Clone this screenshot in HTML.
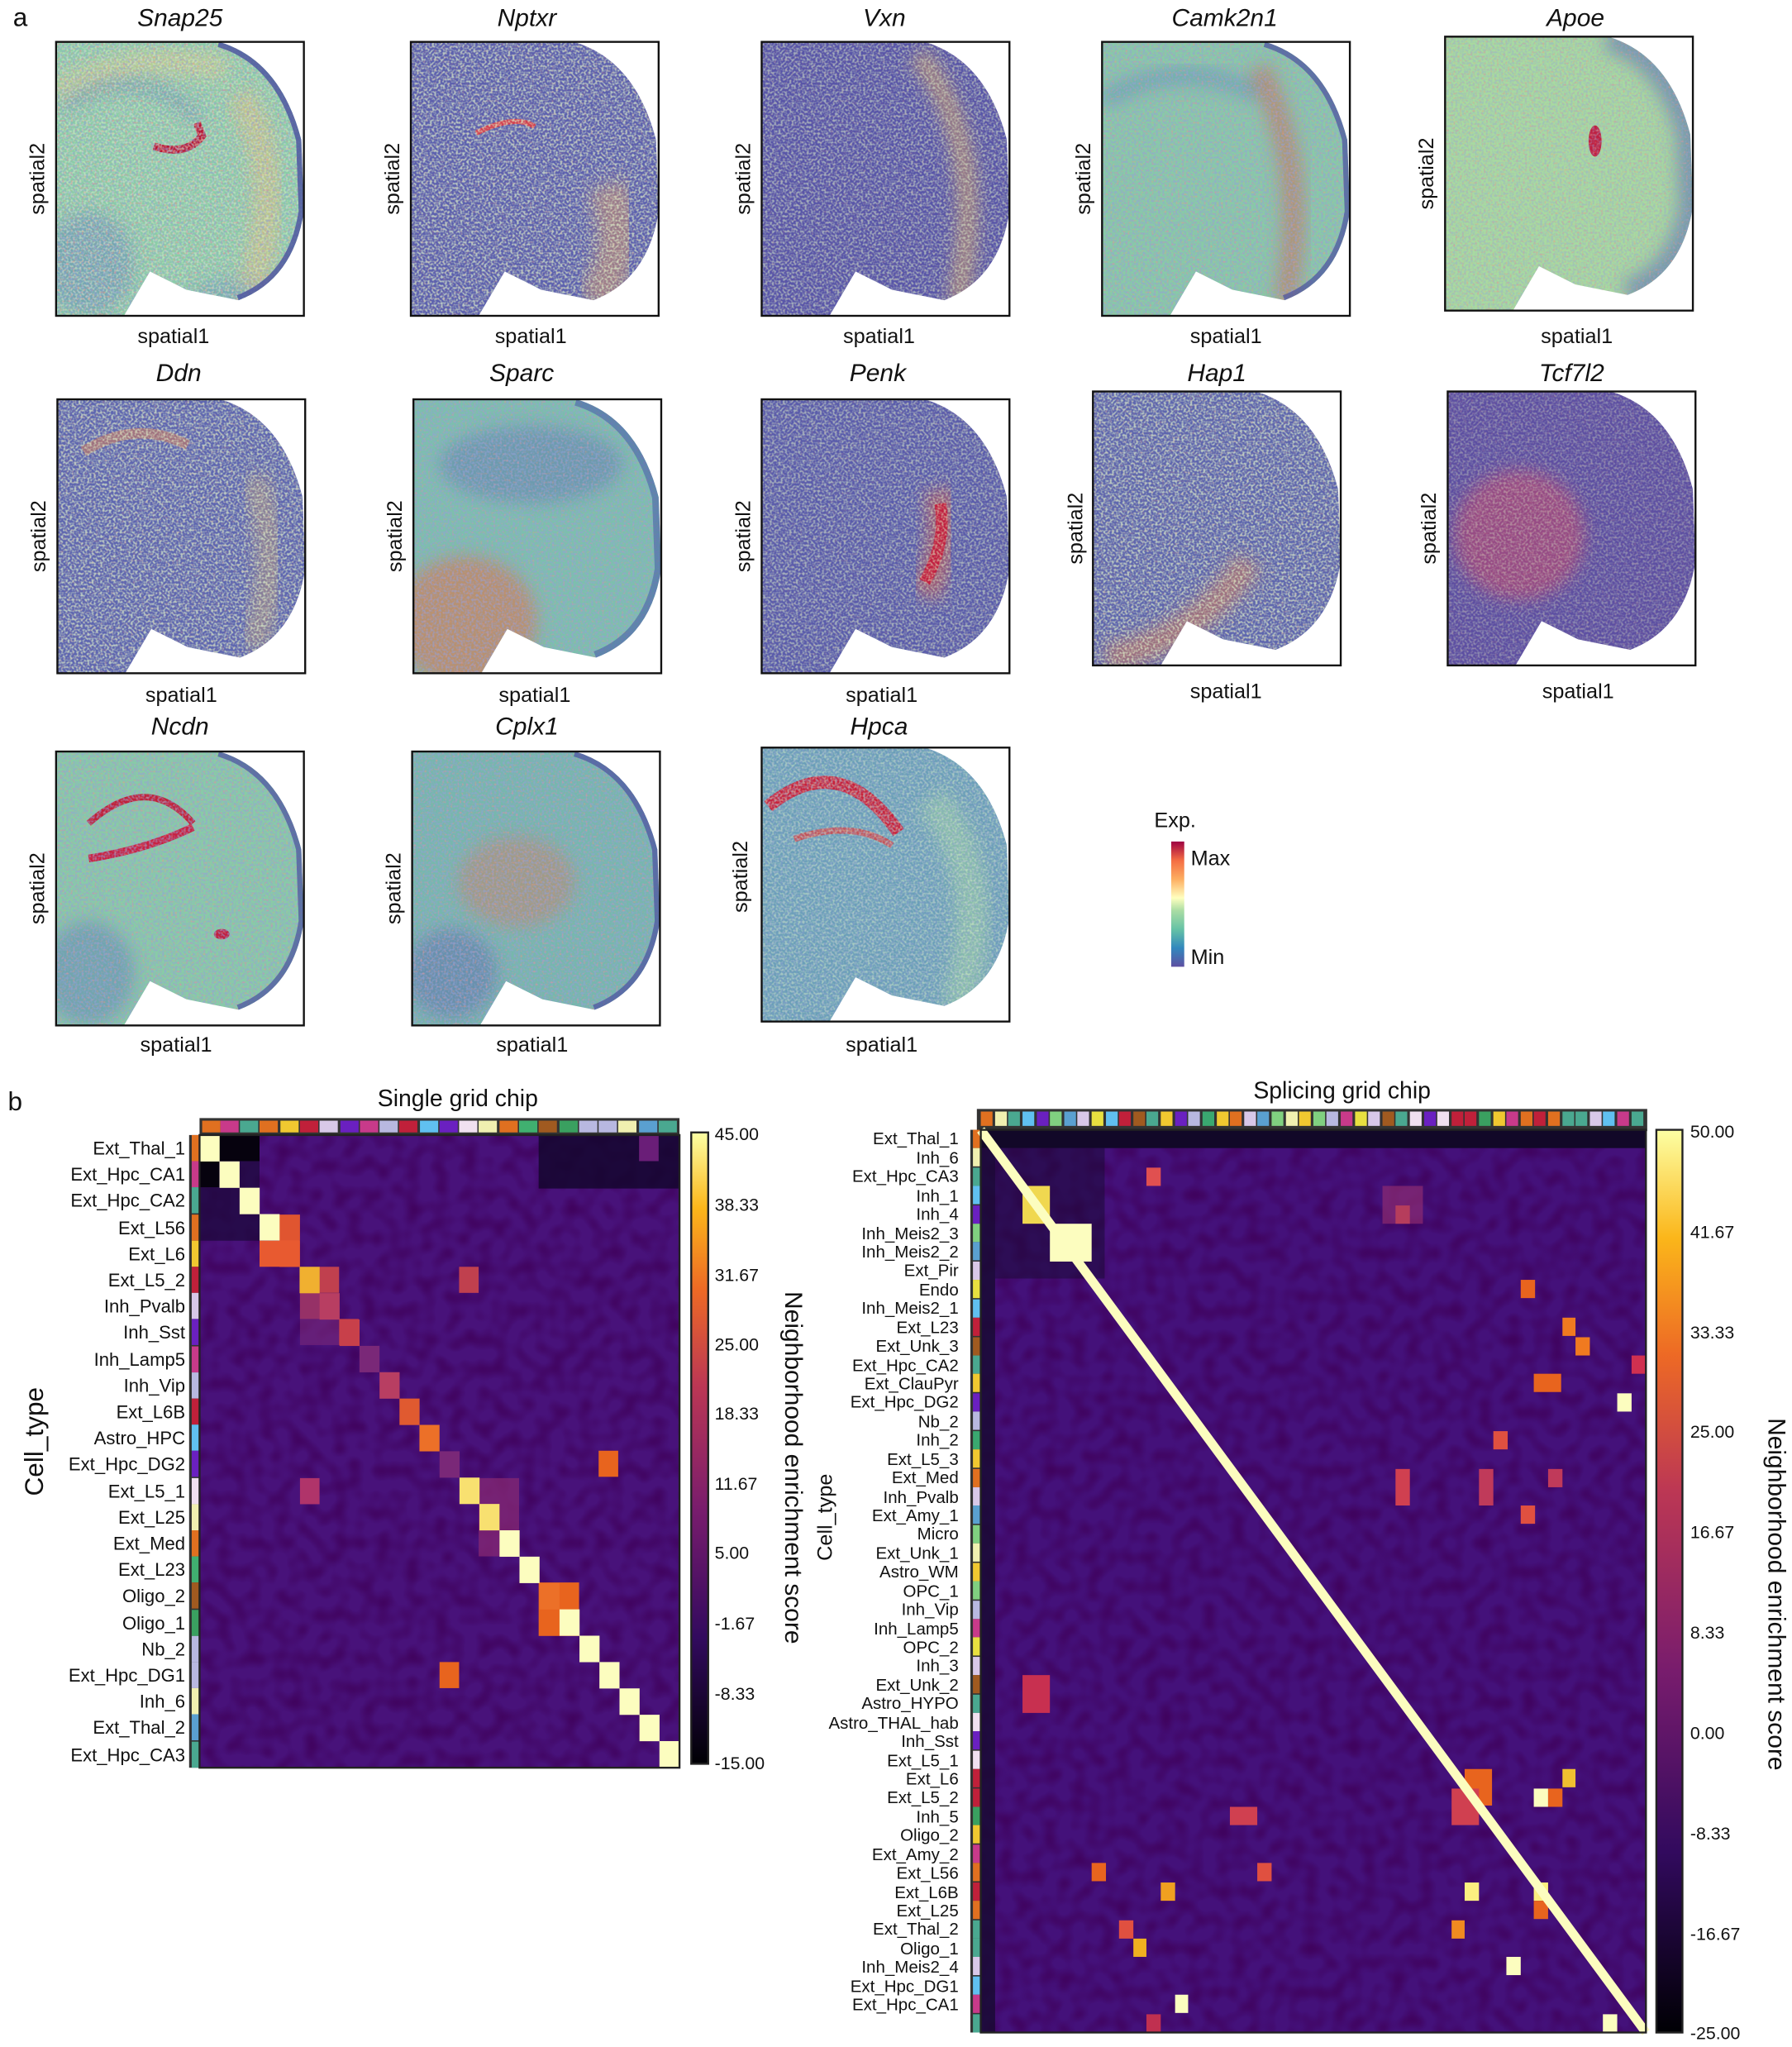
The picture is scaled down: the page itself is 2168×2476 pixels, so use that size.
<!DOCTYPE html>
<html><head><meta charset="utf-8"><style>
html,body{margin:0;padding:0;background:#fff}
svg{display:block}
text{font-family:"Liberation Sans",sans-serif;fill:#111}
</style></head><body>
<svg width="2168" height="2476" viewBox="0 0 1374 1569" xmlns="http://www.w3.org/2000/svg">
<defs>
<clipPath id="brain"><path d="M0,0 L125,0 Q172,14 188,75 L190,130 Q182,182 140,198 L100,190 L72,176 L52,210 L0,210 Z"/></clipPath>
<filter id="spkD" filterUnits="userSpaceOnUse" x="0" y="0" width="190" height="210">
<feTurbulence type="fractalNoise" baseFrequency="0.6" numOctaves="1" seed="3"/>
<feColorMatrix type="matrix" values="0 0 0 0 0.3 0 0 0 0 0.35 0 0 0 0 0.68 3.5 0 0 0 -1.4"/>
</filter>
<filter id="spkL" filterUnits="userSpaceOnUse" x="0" y="0" width="190" height="210">
<feTurbulence type="fractalNoise" baseFrequency="0.6" numOctaves="1" seed="7"/>
<feColorMatrix type="matrix" values="0 0 0 0 0.75 0 0 0 0 0.9 0 0 0 0 0.6 3.5 0 0 0 -1.45"/>
</filter>
<filter id="spkR" filterUnits="userSpaceOnUse" x="0" y="0" width="190" height="210">
<feTurbulence type="fractalNoise" baseFrequency="0.6" numOctaves="1" seed="11"/>
<feColorMatrix type="matrix" values="0 0 0 0 0.85 0 0 0 0 0.3 0 0 0 0 0.25 4 0 0 0 -2.2"/>
</filter>
<filter id="blur4" x="-50%" y="-50%" width="200%" height="200%"><feGaussianBlur stdDeviation="6"/></filter>
<filter id="hmn" filterUnits="userSpaceOnUse" x="0" y="0" width="1374" height="1569">
<feTurbulence type="fractalNoise" baseFrequency="0.09" numOctaves="1" seed="5"/>
<feColorMatrix type="matrix" values="0 0 0 0 0.05 0 0 0 0 0.0 0 0 0 0 0.1 2.5 0 0 0 -1.0"/>
</filter>
<linearGradient id="spec" x1="0" y1="1" x2="0" y2="0">
<stop offset="0" stop-color="#5e4fa2"/><stop offset="0.15" stop-color="#3288bd"/><stop offset="0.3" stop-color="#66c2a5"/><stop offset="0.45" stop-color="#abdda4"/><stop offset="0.55" stop-color="#ffffbf"/><stop offset="0.7" stop-color="#fdae61"/><stop offset="0.85" stop-color="#f46d43"/><stop offset="1" stop-color="#9e0142"/>
</linearGradient>
<linearGradient id="inf" x1="0" y1="1" x2="0" y2="0">
<stop offset="0" stop-color="#000004"/><stop offset="0.2" stop-color="#320a5e"/><stop offset="0.4" stop-color="#781c6d"/><stop offset="0.6" stop-color="#bc3754"/><stop offset="0.75" stop-color="#ed6925"/><stop offset="0.88" stop-color="#fbb61a"/><stop offset="1" stop-color="#fcffa4"/>
</linearGradient>
</defs>

<text x="10" y="20" font-size="20">a</text>
<text x="6" y="851" font-size="20">b</text>

<!-- Snap25 -->
<g transform="translate(43,32)">
<g clip-path="url(#brain)"><rect width="190" height="210" fill="#8acfa6"/>
<path d="M0,40 Q60,5 130,20" stroke="#e8d080" stroke-width="20" fill="none" opacity="0.5" filter="url(#blur4)"/>
<path d="M5,50 Q60,10 110,60" stroke="#4f78b0" stroke-width="10" fill="none" opacity="0.5" filter="url(#blur4)"/>
<ellipse cx="25" cy="170" rx="35" ry="40" fill="#5a80b8" opacity="0.5" filter="url(#blur4)"/>
<ellipse cx="140" cy="200" rx="40" ry="20" fill="#5a80b8" opacity="0.4" filter="url(#blur4)"/>
<path d="M140,40 Q178,100 150,190" stroke="#f0c070" stroke-width="22" fill="none" opacity="0.5" filter="url(#blur4)"/>
<path d="M75,80 Q100,88 112,72 L108,62" stroke="#b8102e" stroke-width="6" fill="none"/>
<rect width="190" height="210" filter="url(#spkD)" opacity="0.6"/>
<rect width="190" height="210" filter="url(#spkL)" opacity="0.5"/>
<rect width="190" height="210" filter="url(#spkR)" opacity="0.6"/>
<path d="M125,0 Q172,14 188,75 L190,130 Q182,182 140,198" stroke="#4a50a0" stroke-width="8" fill="none" opacity="0.8"/></g>
<rect width="190" height="210" fill="none" stroke="#111" stroke-width="1.5"/></g>
<text x="138" y="20" font-size="19" font-style="italic" text-anchor="middle">Snap25</text>
<text x="133" y="263" font-size="16" text-anchor="middle">spatial1</text>
<text transform="translate(34,137) rotate(-90)" font-size="16" text-anchor="middle">spatial2</text>

<!-- Nptxr -->
<g transform="translate(315,32)">
<g clip-path="url(#brain)"><rect width="190" height="210" fill="#5c60ae"/>
<path d="M150,110 Q170,160 140,200" stroke="#e8a060" stroke-width="30" fill="none" opacity="0.45" filter="url(#blur4)"/>
<path d="M50,70 Q80,55 95,65" stroke="#d04050" stroke-width="4" fill="none"/>
<rect width="190" height="210" filter="url(#spkL)" opacity="0.7"/>
<rect width="190" height="210" filter="url(#spkR)" opacity="0.3"/></g>
<rect width="190" height="210" fill="none" stroke="#111" stroke-width="1.5"/></g>
<text x="404" y="20" font-size="19" font-style="italic" text-anchor="middle">Nptxr</text>
<text x="407" y="263" font-size="16" text-anchor="middle">spatial1</text>
<text transform="translate(306,137) rotate(-90)" font-size="16" text-anchor="middle">spatial2</text>

<!-- Vxn -->
<g transform="translate(584,32)">
<g clip-path="url(#brain)"><rect width="190" height="210" fill="#5855a8"/>
<path d="M120,10 Q175,80 150,200" stroke="#e8b060" stroke-width="16" fill="none" opacity="0.5" filter="url(#blur4)"/>
<rect width="190" height="210" filter="url(#spkL)" opacity="0.55"/>
<rect width="190" height="210" filter="url(#spkR)" opacity="0.2"/></g>
<rect width="190" height="210" fill="none" stroke="#111" stroke-width="1.5"/></g>
<text x="678" y="20" font-size="19" font-style="italic" text-anchor="middle">Vxn</text>
<text x="674" y="263" font-size="16" text-anchor="middle">spatial1</text>
<text transform="translate(575,137) rotate(-90)" font-size="16" text-anchor="middle">spatial2</text>

<!-- Camk2n1 -->
<g transform="translate(845,32)">
<g clip-path="url(#brain)"><rect width="190" height="210" fill="#88cba6"/>
<path d="M0,45 Q60,10 120,40" stroke="#5a8cb8" stroke-width="14" fill="none" opacity="0.5" filter="url(#blur4)"/>
<path d="M120,20 Q160,100 140,200" stroke="#e05040" stroke-width="18" fill="none" opacity="0.45" filter="url(#blur4)"/>
<rect width="190" height="210" filter="url(#spkD)" opacity="0.6"/>
<rect width="190" height="210" filter="url(#spkR)" opacity="0.5"/>
<path d="M125,0 Q172,14 188,75 L190,130 Q182,182 140,198" stroke="#4a50a0" stroke-width="8" fill="none" opacity="0.7"/></g>
<rect width="190" height="210" fill="none" stroke="#111" stroke-width="1.5"/></g>
<text x="939" y="20" font-size="19" font-style="italic" text-anchor="middle">Camk2n1</text>
<text x="940" y="263" font-size="16" text-anchor="middle">spatial1</text>
<text transform="translate(836,137) rotate(-90)" font-size="16" text-anchor="middle">spatial2</text>

<!-- Apoe -->
<g transform="translate(1108,28)">
<g clip-path="url(#brain)"><rect width="190" height="210" fill="#a8daa0"/>
<path d="M125,0 Q172,14 188,75 L190,130 Q182,182 140,198" stroke="#5a70b0" stroke-width="22" fill="none" opacity="0.6" filter="url(#blur4)"/>
<ellipse cx="115" cy="80" rx="5" ry="12" fill="#c02040"/>
<rect width="190" height="210" filter="url(#spkD)" opacity="0.4"/>
<rect width="190" height="210" filter="url(#spkR)" opacity="0.5"/></g>
<rect width="190" height="210" fill="none" stroke="#111" stroke-width="1.5"/></g>
<text x="1208" y="20" font-size="19" font-style="italic" text-anchor="middle">Apoe</text>
<text x="1209" y="263" font-size="16" text-anchor="middle">spatial1</text>
<text transform="translate(1099,133) rotate(-90)" font-size="16" text-anchor="middle">spatial2</text>

<!-- Ddn -->
<g transform="translate(44,306)">
<g clip-path="url(#brain)"><rect width="190" height="210" fill="#5e66b0"/>
<path d="M20,40 Q60,15 100,35" stroke="#e08050" stroke-width="8" fill="none" opacity="0.5"/>
<path d="M150,60 Q175,120 150,190" stroke="#d8b070" stroke-width="20" fill="none" opacity="0.4" filter="url(#blur4)"/>
<rect width="190" height="210" filter="url(#spkL)" opacity="0.7"/>
<rect width="190" height="210" filter="url(#spkR)" opacity="0.3"/></g>
<rect width="190" height="210" fill="none" stroke="#111" stroke-width="1.5"/></g>
<text x="137" y="292" font-size="19" font-style="italic" text-anchor="middle">Ddn</text>
<text x="139" y="538" font-size="16" text-anchor="middle">spatial1</text>
<text transform="translate(35,411) rotate(-90)" font-size="16" text-anchor="middle">spatial2</text>

<!-- Sparc -->
<g transform="translate(317,306)">
<g clip-path="url(#brain)"><rect width="190" height="210" fill="#7cc0ac"/>
<ellipse cx="90" cy="50" rx="70" ry="30" fill="#5a70b0" opacity="0.45" filter="url(#blur4)"/>
<ellipse cx="40" cy="170" rx="55" ry="50" fill="#e86a40" opacity="0.55" filter="url(#blur4)"/>
<rect width="190" height="210" filter="url(#spkD)" opacity="0.6"/>
<rect width="190" height="210" filter="url(#spkR)" opacity="0.4"/>
<path d="M125,0 Q172,14 188,75 L190,130 Q182,182 140,198" stroke="#4a60a8" stroke-width="10" fill="none" opacity="0.6"/></g>
<rect width="190" height="210" fill="none" stroke="#111" stroke-width="1.5"/></g>
<text x="400" y="292" font-size="19" font-style="italic" text-anchor="middle">Sparc</text>
<text x="410" y="538" font-size="16" text-anchor="middle">spatial1</text>
<text transform="translate(308,411) rotate(-90)" font-size="16" text-anchor="middle">spatial2</text>

<!-- Penk -->
<g transform="translate(584,306)">
<g clip-path="url(#brain)"><rect width="190" height="210" fill="#5a5cab"/>
<path d="M135,70 Q145,110 125,150" stroke="#e86040" stroke-width="22" fill="none" opacity="0.5" filter="url(#blur4)"/>
<path d="M137,80 Q142,110 125,140" stroke="#c02040" stroke-width="9" fill="none"/>
<rect width="190" height="210" filter="url(#spkL)" opacity="0.55"/>
<rect width="190" height="210" filter="url(#spkR)" opacity="0.2"/></g>
<rect width="190" height="210" fill="none" stroke="#111" stroke-width="1.5"/></g>
<text x="673" y="292" font-size="19" font-style="italic" text-anchor="middle">Penk</text>
<text x="676" y="538" font-size="16" text-anchor="middle">spatial1</text>
<text transform="translate(575,411) rotate(-90)" font-size="16" text-anchor="middle">spatial2</text>

<!-- Hap1 -->
<g transform="translate(838,300)">
<g clip-path="url(#brain)"><rect width="190" height="210" fill="#5e66ae"/>
<path d="M10,205 Q80,190 120,130" stroke="#e08050" stroke-width="22" fill="none" opacity="0.5" filter="url(#blur4)"/>
<rect width="190" height="210" filter="url(#spkL)" opacity="0.7"/>
<rect width="190" height="210" filter="url(#spkR)" opacity="0.3"/></g>
<rect width="190" height="210" fill="none" stroke="#111" stroke-width="1.5"/></g>
<text x="933" y="292" font-size="19" font-style="italic" text-anchor="middle">Hap1</text>
<text x="940" y="535" font-size="16" text-anchor="middle">spatial1</text>
<text transform="translate(830,405) rotate(-90)" font-size="16" text-anchor="middle">spatial2</text>

<!-- Tcf7l2 -->
<g transform="translate(1110,300)">
<g clip-path="url(#brain)"><rect width="190" height="210" fill="#5d4fa2"/>
<ellipse cx="55" cy="110" rx="50" ry="50" fill="#d04868" opacity="0.5" filter="url(#blur4)"/>
<rect width="190" height="210" filter="url(#spkL)" opacity="0.35"/>
<rect width="190" height="210" filter="url(#spkR)" opacity="0.2"/></g>
<rect width="190" height="210" fill="none" stroke="#111" stroke-width="1.5"/></g>
<text x="1205" y="292" font-size="19" font-style="italic" text-anchor="middle">Tcf7l2</text>
<text x="1210" y="535" font-size="16" text-anchor="middle">spatial1</text>
<text transform="translate(1101,405) rotate(-90)" font-size="16" text-anchor="middle">spatial2</text>

<!-- Ncdn -->
<g transform="translate(43,576)">
<g clip-path="url(#brain)"><rect width="190" height="210" fill="#88cca6"/>
<ellipse cx="25" cy="170" rx="35" ry="40" fill="#5a80b5" opacity="0.5" filter="url(#blur4)"/>
<path d="M25,55 Q70,15 105,55" stroke="#c02038" stroke-width="5" fill="none"/>
<path d="M25,82 Q70,75 105,58" stroke="#c82040" stroke-width="6" fill="none"/>
<ellipse cx="127" cy="140" rx="6" ry="4" fill="#c02040"/>
<rect width="190" height="210" filter="url(#spkD)" opacity="0.6"/>
<rect width="190" height="210" filter="url(#spkR)" opacity="0.5"/>
<path d="M125,0 Q172,14 188,75 L190,130 Q182,182 140,198" stroke="#4a50a0" stroke-width="8" fill="none" opacity="0.7"/></g>
<rect width="190" height="210" fill="none" stroke="#111" stroke-width="1.5"/></g>
<text x="138" y="563" font-size="19" font-style="italic" text-anchor="middle">Ncdn</text>
<text x="135" y="806" font-size="16" text-anchor="middle">spatial1</text>
<text transform="translate(34,681) rotate(-90)" font-size="16" text-anchor="middle">spatial2</text>

<!-- Cplx1 -->
<g transform="translate(316,576)">
<g clip-path="url(#brain)"><rect width="190" height="210" fill="#76b8ac"/>
<ellipse cx="80" cy="100" rx="45" ry="35" fill="#e07050" opacity="0.4" filter="url(#blur4)"/>
<ellipse cx="30" cy="170" rx="35" ry="35" fill="#5a62ad" opacity="0.45" filter="url(#blur4)"/>
<rect width="190" height="210" filter="url(#spkD)" opacity="0.6"/>
<rect width="190" height="210" filter="url(#spkR)" opacity="0.5"/>
<path d="M125,0 Q172,14 188,75 L190,130 Q182,182 140,198" stroke="#4a50a0" stroke-width="8" fill="none" opacity="0.7"/></g>
<rect width="190" height="210" fill="none" stroke="#111" stroke-width="1.5"/></g>
<text x="404" y="563" font-size="19" font-style="italic" text-anchor="middle">Cplx1</text>
<text x="408" y="806" font-size="16" text-anchor="middle">spatial1</text>
<text transform="translate(307,681) rotate(-90)" font-size="16" text-anchor="middle">spatial2</text>

<!-- Hpca -->
<g transform="translate(584,573)">
<g clip-path="url(#brain)"><rect width="190" height="210" fill="#6a9fb8"/>
<path d="M130,40 Q180,100 150,200" stroke="#a8dca0" stroke-width="25" fill="none" opacity="0.5" filter="url(#blur4)"/>
<path d="M5,45 Q60,0 105,65" stroke="#c8203a" stroke-width="10" fill="none"/>
<path d="M25,70 Q70,55 100,75" stroke="#d84040" stroke-width="5" fill="none" opacity="0.8"/>
<rect width="190" height="210" filter="url(#spkL)" opacity="0.5"/>
<rect width="190" height="210" filter="url(#spkD)" opacity="0.4"/></g>
<rect width="190" height="210" fill="none" stroke="#111" stroke-width="1.5"/></g>
<text x="674" y="563" font-size="19" font-style="italic" text-anchor="middle">Hpca</text>
<text x="676" y="806" font-size="16" text-anchor="middle">spatial1</text>
<text transform="translate(573,672) rotate(-90)" font-size="16" text-anchor="middle">spatial2</text>

<!-- Exp legend -->
<text x="885" y="634" font-size="16">Exp.</text>
<rect x="898" y="645" width="10" height="96" fill="url(#spec)"/>
<text x="913" y="663" font-size="16">Max</text>
<text x="913" y="739" font-size="16">Min</text>

<!-- LEFT HEATMAP -->
<text x="351" y="848" font-size="18" text-anchor="middle">Single grid chip</text>
<g>
<rect x="153" y="857" width="368" height="13" fill="#333"/>
<g>
<rect x="155" y="859" width="14" height="9" fill="#e07020"/><rect x="169" y="859" width="14" height="9" fill="#c83a8a"/><rect x="184" y="859" width="14" height="9" fill="#4aa890"/><rect x="199" y="859" width="14" height="9" fill="#e07020"/><rect x="215" y="859" width="14" height="9" fill="#f0c830"/><rect x="230" y="859" width="14" height="9" fill="#c0203a"/><rect x="245" y="859" width="14" height="9" fill="#d8c8e8"/><rect x="261" y="859" width="14" height="9" fill="#6a20c0"/><rect x="276" y="859" width="14" height="9" fill="#c83a8a"/><rect x="291" y="859" width="14" height="9" fill="#b8b8e0"/><rect x="306" y="859" width="14" height="9" fill="#c0203a"/><rect x="322" y="859" width="14" height="9" fill="#60c0f0"/><rect x="337" y="859" width="14" height="9" fill="#6a20c0"/><rect x="352" y="859" width="14" height="9" fill="#f0e0f0"/><rect x="367" y="859" width="14" height="9" fill="#f0f0b0"/><rect x="383" y="859" width="14" height="9" fill="#e07020"/><rect x="398" y="859" width="14" height="9" fill="#40b070"/><rect x="413" y="859" width="14" height="9" fill="#a05a20"/><rect x="429" y="859" width="14" height="9" fill="#3aa060"/><rect x="444" y="859" width="14" height="9" fill="#b8b8e0"/><rect x="459" y="859" width="14" height="9" fill="#b8b8e0"/><rect x="474" y="859" width="14" height="9" fill="#f0f0b0"/><rect x="490" y="859" width="14" height="9" fill="#5aa0d0"/><rect x="505" y="859" width="14" height="9" fill="#4aa890"/>
</g>
<rect x="145" y="870" width="8" height="485" fill="#333"/>
<g>
<rect x="147" y="870" width="6" height="20" fill="#e07020"/><rect x="147" y="890" width="6" height="20" fill="#c83a8a"/><rect x="147" y="910" width="6" height="20" fill="#4aa890"/><rect x="147" y="931" width="6" height="20" fill="#e07020"/><rect x="147" y="951" width="6" height="20" fill="#f0c830"/><rect x="147" y="971" width="6" height="20" fill="#c0203a"/><rect x="147" y="991" width="6" height="20" fill="#d8c8e8"/><rect x="147" y="1011" width="6" height="20" fill="#6a20c0"/><rect x="147" y="1032" width="6" height="20" fill="#c83a8a"/><rect x="147" y="1052" width="6" height="20" fill="#b8b8e0"/><rect x="147" y="1072" width="6" height="20" fill="#c0203a"/><rect x="147" y="1092" width="6" height="20" fill="#60c0f0"/><rect x="147" y="1112" width="6" height="20" fill="#6a20c0"/><rect x="147" y="1133" width="6" height="20" fill="#f0e0f0"/><rect x="147" y="1153" width="6" height="20" fill="#f0f0b0"/><rect x="147" y="1173" width="6" height="20" fill="#e07020"/><rect x="147" y="1193" width="6" height="20" fill="#40b070"/><rect x="147" y="1213" width="6" height="20" fill="#a05a20"/><rect x="147" y="1234" width="6" height="20" fill="#3aa060"/><rect x="147" y="1254" width="6" height="20" fill="#b8b8e0"/><rect x="147" y="1274" width="6" height="20" fill="#b8b8e0"/><rect x="147" y="1294" width="6" height="20" fill="#f0f0b0"/><rect x="147" y="1314" width="6" height="20" fill="#5aa0d0"/><rect x="147" y="1335" width="6" height="20" fill="#4aa890"/>
</g>
<rect x="153" y="870" width="368" height="485" fill="#48127a"/>
<rect x="153" y="870" width="368" height="485" filter="url(#hmn)" opacity="0.8" clip-path="inset(0)"/>
<g>
<rect x="153" y="870" width="46" height="81" fill="#1a0838" opacity="0.7"/>
<rect x="168" y="870" width="31" height="20" fill="#06020e"/>
<rect x="153" y="890" width="15" height="20" fill="#06020e"/>
<rect x="413" y="870" width="108" height="41" fill="#12062a" opacity="0.8"/>
<rect x="490" y="870" width="15" height="20" fill="#6a1e78"/>
<rect x="214" y="931" width="16" height="20" fill="#e05530"/>
<rect x="199" y="951" width="31" height="20" fill="#e85a30"/>
<rect x="245" y="971" width="15" height="20" fill="#c0404e"/>
<rect x="352" y="971" width="15" height="20" fill="#c0404e"/>
<rect x="230" y="991" width="15" height="20" fill="#c0404e"/>
<rect x="230" y="991" width="30" height="40" fill="#7a2878" opacity="0.6"/>
<rect x="260" y="1011" width="15" height="20" fill="#c8404a"/>
<rect x="459" y="1112" width="15" height="20" fill="#e8641e"/>
<rect x="230" y="1133" width="15" height="20" fill="#b0346a"/>
<rect x="367" y="1133" width="31" height="60" fill="#8a2a72" opacity="0.7"/>
<rect x="413" y="1213" width="31" height="41" fill="#e8641e"/>
<rect x="337" y="1274" width="15" height="20" fill="#e8641e"/>
</g>
<g fill="#fcfdbf">
<rect x="153" y="870" width="15.4" height="20.3"/><rect x="168.3" y="890.2" width="15.4" height="20.3"/><rect x="183.7" y="910.4" width="15.4" height="20.3"/><rect x="199" y="930.6" width="15.4" height="20.3"/><rect x="214.3" y="950.8" width="15.4" height="20.3" fill="#e85a30"/><rect x="229.7" y="971" width="15.4" height="20.3" fill="#f0b030"/><rect x="245" y="991.2" width="15.4" height="20.3" fill="#b83e62"/><rect x="260.3" y="1011.4" width="15.4" height="20.3" fill="#c8404a"/><rect x="275.6" y="1031.6" width="15.4" height="20.3" fill="#7a2878"/><rect x="291" y="1051.8" width="15.4" height="20.3" fill="#b83e62"/><rect x="306.3" y="1072" width="15.4" height="20.3" fill="#e05a30"/><rect x="321.6" y="1092.2" width="15.4" height="20.3" fill="#ec7028"/><rect x="337" y="1112.4" width="15.4" height="20.3" fill="#7a2878"/><rect x="352.3" y="1132.6" width="15.4" height="20.3" fill="#f8e070"/><rect x="367.6" y="1152.8" width="15.4" height="20.3" fill="#f8e070"/><rect x="383" y="1173" width="15.4" height="20.3"/><rect x="398.3" y="1193.2" width="15.4" height="20.3"/><rect x="413.6" y="1213.4" width="15.4" height="20.3" fill="#ec7028"/><rect x="429" y="1233.6" width="15.4" height="20.3"/><rect x="444.3" y="1253.8" width="15.4" height="20.3"/><rect x="459.6" y="1274" width="15.4" height="20.3"/><rect x="475" y="1294.2" width="15.4" height="20.3"/><rect x="490.3" y="1314.4" width="15.4" height="20.3"/><rect x="505.6" y="1334.6" width="15.4" height="20.4"/>
</g>
<rect x="153" y="870" width="368" height="485" fill="none" stroke="#222" stroke-width="1.5"/>
</g>
<g font-size="14" text-anchor="end">
<text x="142" y="885">Ext_Thal_1</text><text x="142" y="905">Ext_Hpc_CA1</text><text x="142" y="925">Ext_Hpc_CA2</text><text x="142" y="946">Ext_L56</text><text x="142" y="966">Ext_L6</text><text x="142" y="986">Ext_L5_2</text><text x="142" y="1006">Inh_Pvalb</text><text x="142" y="1026">Inh_Sst</text><text x="142" y="1047">Inh_Lamp5</text><text x="142" y="1067">Inh_Vip</text><text x="142" y="1087">Ext_L6B</text><text x="142" y="1107">Astro_HPC</text><text x="142" y="1127">Ext_Hpc_DG2</text><text x="142" y="1148">Ext_L5_1</text><text x="142" y="1168">Ext_L25</text><text x="142" y="1188">Ext_Med</text><text x="142" y="1208">Ext_L23</text><text x="142" y="1228">Oligo_2</text><text x="142" y="1249">Oligo_1</text><text x="142" y="1269">Nb_2</text><text x="142" y="1289">Ext_Hpc_DG1</text><text x="142" y="1309">Inh_6</text><text x="142" y="1329">Ext_Thal_2</text><text x="142" y="1350">Ext_Hpc_CA3</text>
</g>
<text transform="translate(33,1105) rotate(-90)" font-size="20" text-anchor="middle">Cell_type</text>
<rect x="530" y="868" width="13" height="484" fill="url(#inf)" stroke="#222" stroke-width="1.5"/>
<g font-size="13.5">
<text x="548" y="874">45.00</text><text x="548" y="928">38.33</text><text x="548" y="982">31.67</text><text x="548" y="1035">25.00</text><text x="548" y="1088">18.33</text><text x="548" y="1142">11.67</text><text x="548" y="1195">5.00</text><text x="548" y="1249">-1.67</text><text x="548" y="1303">-8.33</text><text x="548" y="1356">-15.00</text>
</g>
<text transform="translate(602,1125) rotate(90)" font-size="19" text-anchor="middle">Neighborhood enrichment score</text>

<!-- RIGHT HEATMAP -->
<text x="1029" y="842" font-size="18" text-anchor="middle">Splicing grid chip</text>
<rect x="749" y="850" width="514" height="17" fill="#333"/>
<g>
<rect x="752" y="852" width="9" height="11" fill="#e07020"/><rect x="763" y="852" width="9" height="11" fill="#f0f0b0"/><rect x="773" y="852" width="9" height="11" fill="#4aa890"/><rect x="784" y="852" width="9" height="11" fill="#60c0f0"/><rect x="795" y="852" width="9" height="11" fill="#6a20c0"/><rect x="805" y="852" width="9" height="11" fill="#80d080"/><rect x="816" y="852" width="9" height="11" fill="#5aa0d0"/><rect x="826" y="852" width="9" height="11" fill="#d8c8e8"/><rect x="837" y="852" width="9" height="11" fill="#e8e040"/><rect x="848" y="852" width="9" height="11" fill="#60c0f0"/><rect x="858" y="852" width="9" height="11" fill="#c0203a"/><rect x="869" y="852" width="9" height="11" fill="#a05a20"/><rect x="879" y="852" width="9" height="11" fill="#4aa890"/><rect x="890" y="852" width="9" height="11" fill="#f0c830"/><rect x="901" y="852" width="9" height="11" fill="#6a20c0"/><rect x="911" y="852" width="9" height="11" fill="#b8b8e0"/><rect x="922" y="852" width="9" height="11" fill="#3aa870"/><rect x="933" y="852" width="9" height="11" fill="#f0c830"/><rect x="943" y="852" width="9" height="11" fill="#e07020"/><rect x="954" y="852" width="9" height="11" fill="#d8c8e8"/><rect x="964" y="852" width="9" height="11" fill="#5aa0d0"/><rect x="975" y="852" width="9" height="11" fill="#80d080"/><rect x="986" y="852" width="9" height="11" fill="#f0f0b0"/><rect x="996" y="852" width="9" height="11" fill="#f0c830"/><rect x="1007" y="852" width="9" height="11" fill="#80d080"/><rect x="1017" y="852" width="9" height="11" fill="#b8b8e0"/><rect x="1028" y="852" width="9" height="11" fill="#c83a8a"/><rect x="1039" y="852" width="9" height="11" fill="#e8e040"/><rect x="1049" y="852" width="9" height="11" fill="#d8c8e8"/><rect x="1060" y="852" width="9" height="11" fill="#a05a20"/><rect x="1070" y="852" width="9" height="11" fill="#4aa890"/><rect x="1081" y="852" width="9" height="11" fill="#f0e0f0"/><rect x="1092" y="852" width="9" height="11" fill="#6a20c0"/><rect x="1102" y="852" width="9" height="11" fill="#f0e0f0"/><rect x="1113" y="852" width="9" height="11" fill="#c0203a"/><rect x="1123" y="852" width="9" height="11" fill="#c0203a"/><rect x="1134" y="852" width="9" height="11" fill="#3aa060"/><rect x="1145" y="852" width="9" height="11" fill="#f0c830"/><rect x="1155" y="852" width="9" height="11" fill="#c83a8a"/><rect x="1166" y="852" width="9" height="11" fill="#e07020"/><rect x="1176" y="852" width="9" height="11" fill="#c0203a"/><rect x="1187" y="852" width="9" height="11" fill="#e07020"/><rect x="1198" y="852" width="9" height="11" fill="#4aa890"/><rect x="1208" y="852" width="9" height="11" fill="#4aa890"/><rect x="1219" y="852" width="9" height="11" fill="#d8c8e8"/><rect x="1229" y="852" width="9" height="11" fill="#60c0f0"/><rect x="1240" y="852" width="9" height="11" fill="#c83a8a"/><rect x="1251" y="852" width="9" height="11" fill="#4aa890"/>
</g>
<rect x="744" y="866" width="8" height="692" fill="#333"/>
<g>
<rect x="746" y="866" width="6" height="14" fill="#e07020"/><rect x="746" y="880" width="6" height="14" fill="#f0f0b0"/><rect x="746" y="895" width="6" height="14" fill="#4aa890"/><rect x="746" y="909" width="6" height="14" fill="#60c0f0"/><rect x="746" y="924" width="6" height="14" fill="#6a20c0"/><rect x="746" y="938" width="6" height="14" fill="#80d080"/><rect x="746" y="952" width="6" height="14" fill="#5aa0d0"/><rect x="746" y="967" width="6" height="14" fill="#d8c8e8"/><rect x="746" y="981" width="6" height="14" fill="#e8e040"/><rect x="746" y="996" width="6" height="14" fill="#60c0f0"/><rect x="746" y="1010" width="6" height="14" fill="#c0203a"/><rect x="746" y="1025" width="6" height="14" fill="#a05a20"/><rect x="746" y="1039" width="6" height="14" fill="#4aa890"/><rect x="746" y="1053" width="6" height="14" fill="#f0c830"/><rect x="746" y="1068" width="6" height="14" fill="#6a20c0"/><rect x="746" y="1082" width="6" height="14" fill="#b8b8e0"/><rect x="746" y="1097" width="6" height="14" fill="#3aa870"/><rect x="746" y="1111" width="6" height="14" fill="#f0c830"/><rect x="746" y="1126" width="6" height="14" fill="#e07020"/><rect x="746" y="1140" width="6" height="14" fill="#d8c8e8"/><rect x="746" y="1154" width="6" height="14" fill="#5aa0d0"/><rect x="746" y="1169" width="6" height="14" fill="#80d080"/><rect x="746" y="1183" width="6" height="14" fill="#f0f0b0"/><rect x="746" y="1198" width="6" height="14" fill="#f0c830"/><rect x="746" y="1212" width="6" height="14" fill="#80d080"/><rect x="746" y="1227" width="6" height="14" fill="#b8b8e0"/><rect x="746" y="1241" width="6" height="14" fill="#c83a8a"/><rect x="746" y="1255" width="6" height="14" fill="#e8e040"/><rect x="746" y="1270" width="6" height="14" fill="#d8c8e8"/><rect x="746" y="1284" width="6" height="14" fill="#a05a20"/><rect x="746" y="1299" width="6" height="14" fill="#4aa890"/><rect x="746" y="1313" width="6" height="14" fill="#f0e0f0"/><rect x="746" y="1327" width="6" height="14" fill="#6a20c0"/><rect x="746" y="1342" width="6" height="14" fill="#f0e0f0"/><rect x="746" y="1356" width="6" height="14" fill="#c0203a"/><rect x="746" y="1371" width="6" height="14" fill="#c0203a"/><rect x="746" y="1385" width="6" height="14" fill="#3aa060"/><rect x="746" y="1399" width="6" height="14" fill="#f0c830"/><rect x="746" y="1414" width="6" height="14" fill="#c83a8a"/><rect x="746" y="1428" width="6" height="14" fill="#e07020"/><rect x="746" y="1443" width="6" height="14" fill="#c0203a"/><rect x="746" y="1457" width="6" height="14" fill="#e07020"/><rect x="746" y="1472" width="6" height="14" fill="#4aa890"/><rect x="746" y="1486" width="6" height="14" fill="#4aa890"/><rect x="746" y="1500" width="6" height="14" fill="#d8c8e8"/><rect x="746" y="1515" width="6" height="14" fill="#60c0f0"/><rect x="746" y="1529" width="6" height="14" fill="#c83a8a"/><rect x="746" y="1544" width="6" height="14" fill="#4aa890"/>
</g>
<rect x="752" y="866" width="510" height="692" fill="#44117a"/>
<rect x="752" y="866" width="510" height="692" filter="url(#hmn)" opacity="0.8" clip-path="inset(0)"/>
<g>
<rect x="752" y="866" width="510" height="14" fill="#120828"/>
<rect x="752" y="880" width="11" height="678" fill="#160a30" opacity="0.8"/>
<rect x="763" y="880" width="84" height="100" fill="#160a30" opacity="0.5"/>
<rect x="784" y="909" width="21" height="29" fill="#f0d850"/>
<rect x="805" y="938" width="32" height="29" fill="#fcfdbf"/>
<rect x="879" y="895" width="11" height="14" fill="#e05050"/>
<rect x="1070" y="924" width="11" height="14" fill="#e05040"/>
<rect x="1060" y="909" width="31" height="29" fill="#9a3070" opacity="0.6"/>
<rect x="1166" y="981" width="11" height="14" fill="#e8641e"/>
<rect x="1198" y="1010" width="10" height="14" fill="#f07a20"/>
<rect x="1208" y="1025" width="11" height="14" fill="#f07a20"/>
<rect x="1176" y="1053" width="21" height="14" fill="#e8641e"/>
<rect x="1240" y="1068" width="11" height="14" fill="#fcfdbf"/>
<rect x="1251" y="1039" width="11" height="14" fill="#d03050"/>
<rect x="1145" y="1097" width="11" height="14" fill="#e05040"/>
<rect x="1070" y="1126" width="11" height="28" fill="#d04050"/>
<rect x="1134" y="1126" width="11" height="28" fill="#c03a5a"/>
<rect x="1187" y="1126" width="11" height="14" fill="#c03a5a"/>
<rect x="1166" y="1154" width="11" height="14" fill="#e05040"/>
<rect x="784" y="1284" width="21" height="29" fill="#c83050"/>
<rect x="1123" y="1356" width="21" height="28" fill="#e8641e"/>
<rect x="1198" y="1356" width="10" height="14" fill="#f0c030"/>
<rect x="1176" y="1371" width="11" height="14" fill="#fcfdbf"/>
<rect x="1187" y="1371" width="11" height="14" fill="#e8641e"/>
<rect x="1113" y="1371" width="21" height="28" fill="#d04050"/>
<rect x="943" y="1385" width="21" height="14" fill="#d04050"/>
<rect x="837" y="1428" width="11" height="14" fill="#e8641e"/>
<rect x="964" y="1428" width="11" height="14" fill="#e05040"/>
<rect x="890" y="1443" width="11" height="14" fill="#f0a020"/>
<rect x="1123" y="1443" width="11" height="14" fill="#fcf080"/>
<rect x="1176" y="1443" width="11" height="14" fill="#fcf080"/>
<rect x="1176" y="1457" width="11" height="14" fill="#e8641e"/>
<rect x="1113" y="1472" width="10" height="14" fill="#f08a20"/>
<rect x="858" y="1472" width="11" height="14" fill="#e05040"/>
<rect x="869" y="1486" width="10" height="14" fill="#f0b020"/>
<rect x="901" y="1529" width="10" height="14" fill="#fcfdbf"/>
<rect x="1155" y="1500" width="11" height="14" fill="#fcfdbf"/>
<rect x="879" y="1544" width="11" height="14" fill="#c03050"/>
<rect x="1229" y="1544" width="11" height="14" fill="#fcfdbf"/>
</g>
<path d="M752,866 L1262,1558" stroke="#fcfdbf" stroke-width="7"/>
<rect x="752" y="866" width="510" height="692" fill="none" stroke="#222" stroke-width="1.5"/>
<g font-size="13" text-anchor="end">
<text x="735" y="877">Ext_Thal_1</text><text x="735" y="892">Inh_6</text><text x="735" y="906">Ext_Hpc_CA3</text><text x="735" y="921">Inh_1</text><text x="735" y="935">Inh_4</text><text x="735" y="950">Inh_Meis2_3</text><text x="735" y="964">Inh_Meis2_2</text><text x="735" y="978">Ext_Pir</text><text x="735" y="993">Endo</text><text x="735" y="1007">Inh_Meis2_1</text><text x="735" y="1022">Ext_L23</text><text x="735" y="1036">Ext_Unk_3</text><text x="735" y="1051">Ext_Hpc_CA2</text><text x="735" y="1065">Ext_ClauPyr</text><text x="735" y="1079">Ext_Hpc_DG2</text><text x="735" y="1094">Nb_2</text><text x="735" y="1108">Inh_2</text><text x="735" y="1123">Ext_L5_3</text><text x="735" y="1137">Ext_Med</text><text x="735" y="1152">Inh_Pvalb</text><text x="735" y="1166">Ext_Amy_1</text><text x="735" y="1180">Micro</text><text x="735" y="1195">Ext_Unk_1</text><text x="735" y="1209">Astro_WM</text><text x="735" y="1224">OPC_1</text><text x="735" y="1238">Inh_Vip</text><text x="735" y="1253">Inh_Lamp5</text><text x="735" y="1267">OPC_2</text><text x="735" y="1281">Inh_3</text><text x="735" y="1296">Ext_Unk_2</text><text x="735" y="1310">Astro_HYPO</text><text x="735" y="1325">Astro_THAL_hab</text><text x="735" y="1339">Inh_Sst</text><text x="735" y="1354">Ext_L5_1</text><text x="735" y="1368">Ext_L6</text><text x="735" y="1382">Ext_L5_2</text><text x="735" y="1397">Inh_5</text><text x="735" y="1411">Oligo_2</text><text x="735" y="1426">Ext_Amy_2</text><text x="735" y="1440">Ext_L56</text><text x="735" y="1455">Ext_L6B</text><text x="735" y="1469">Ext_L25</text><text x="735" y="1483">Ext_Thal_2</text><text x="735" y="1498">Oligo_1</text><text x="735" y="1512">Inh_Meis2_4</text><text x="735" y="1527">Ext_Hpc_DG1</text><text x="735" y="1541">Ext_Hpc_CA1</text>
</g>
<text transform="translate(638,1163) rotate(-90)" font-size="16" text-anchor="middle">Cell_type</text>
<rect x="1270" y="866" width="20" height="692" fill="url(#inf)" stroke="#222" stroke-width="1.5"/>
<g font-size="13.5">
<text x="1296" y="872">50.00</text><text x="1296" y="949">41.67</text><text x="1296" y="1026">33.33</text><text x="1296" y="1102">25.00</text><text x="1296" y="1179">16.67</text><text x="1296" y="1256">8.33</text><text x="1296" y="1333">0.00</text><text x="1296" y="1410">-8.33</text><text x="1296" y="1487">-16.67</text><text x="1296" y="1563">-25.00</text>
</g>
<text transform="translate(1356,1222) rotate(90)" font-size="19" text-anchor="middle">Neighborhood enrichment score</text>
</svg>
</body></html>
